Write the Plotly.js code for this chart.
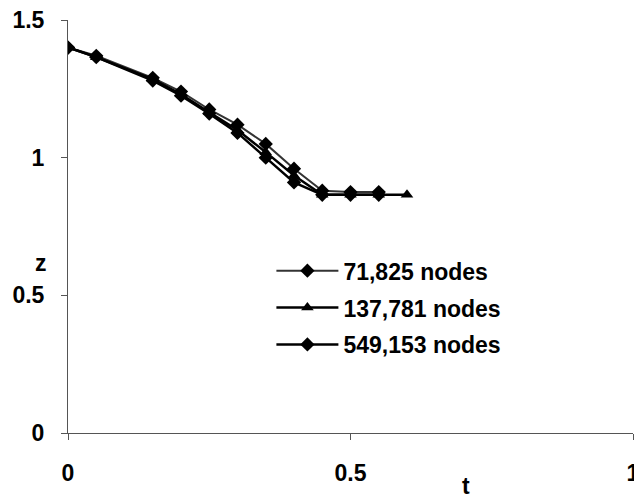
<!DOCTYPE html>
<html>
<head>
<meta charset="utf-8">
<script src="https://cdn.plot.ly/plotly-3.0.1.min.js"></script>
<style>html,body{margin:0;padding:0;background:#fff;}#chart{width:634px;height:500px;}</style>
</head>
<body>
<div id="chart"></div>
<script>
var seriesNames = ['71,825 nodes', '137,781 nodes', '549,153 nodes'];
var tA = [0, 0.05, 0.15, 0.2, 0.25, 0.3, 0.35, 0.4, 0.45, 0.5, 0.55];
var zA = [1.40, 1.37, 1.29, 1.24, 1.175, 1.12, 1.05, 0.96, 0.88, 0.875, 0.875];
var tB = [0, 0.05, 0.15, 0.2, 0.25, 0.3, 0.35, 0.4, 0.45, 0.5, 0.55, 0.6];
var zB = [1.40, 1.365, 1.285, 1.23, 1.165, 1.10, 1.02, 0.935, 0.865, 0.865, 0.865, 0.865];
var tC = [0, 0.05, 0.15, 0.2, 0.25, 0.3, 0.35, 0.4, 0.45, 0.5, 0.55];
var zC = [1.40, 1.365, 1.28, 1.225, 1.16, 1.09, 1.00, 0.91, 0.865, 0.865, 0.865];
var xTicks = [0, 0.5, 1];
var xTickText = ['0', '0.5', '1'];
var yTicks = [0, 0.5, 1, 1.5];
var yTickText = ['0', '0.5', '1', '1.5'];

var FONT = 'Liberation Sans, Arial, sans-serif';
var FS = 23;

var traces = [
  {x: tA, y: zA, name: seriesNames[0], mode: 'lines+markers', legendgroup: 'a',
   line: {color: '#333', width: 2}, marker: {symbol: 'diamond', size: 11, color: '#000'}},
  {x: tB, y: zB, name: seriesNames[1], mode: 'lines+markers', legendgroup: 'b',
   line: {color: '#000', width: 2.5}, marker: {symbol: 'triangle-up', size: 11, color: '#000'}},
  {x: tC, y: zC, name: seriesNames[2], mode: 'lines+markers', legendgroup: 'c',
   line: {color: '#000', width: 2.5}, marker: {symbol: 'diamond', size: 11, color: '#000'}}
];

var layout = {
  width: 634, height: 500,
  margin: {l: 68, r: 1, t: 20, b: 67},
  paper_bgcolor: '#fff', plot_bgcolor: '#fff',
  showlegend: true,
  font: {family: FONT, size: FS, color: '#000', weight: 'bold'},
  legend: {x: 0.36, y: 0.445, xanchor: 'left', yanchor: 'top',
           font: {family: FONT, size: FS, color: '#000', weight: 'bold'},
           itemwidth: 62, tracegroupgap: 4, bgcolor: 'rgba(0,0,0,0)'},
  xaxis: {range: [0, 1], tickvals: xTicks, ticktext: xTickText,
          showgrid: false, zeroline: false, showline: true, linecolor: '#555', linewidth: 1,
          ticks: 'outside', ticklen: 6, tickcolor: '#555', ticklabelstandoff: 13,
          ticklabeloverflow: 'allow',
          tickfont: {family: FONT, size: FS, weight: 'bold'}},
  yaxis: {range: [0, 1.5], tickvals: yTicks, ticktext: yTickText,
          showgrid: false, zeroline: false, showline: true, linecolor: '#555', linewidth: 1,
          ticks: 'outside', ticklen: 6, tickcolor: '#555', ticklabelstandoff: 12,
          tickfont: {family: FONT, size: FS, weight: 'bold'}},
  annotations: [
    {text: 'z', xref: 'paper', yref: 'paper', x: -0.062, y: 0.412, showarrow: false,
     font: {family: FONT, size: FS, weight: 'bold'}},
    {text: 't', xref: 'paper', yref: 'paper', x: 0.715, y: -0.165, showarrow: false,
     font: {family: FONT, size: FS, weight: 'bold'}}
  ]
};

Plotly.newPlot('chart', traces, layout, {displayModeBar: false, staticPlot: true});
</script>
</body>
</html>
